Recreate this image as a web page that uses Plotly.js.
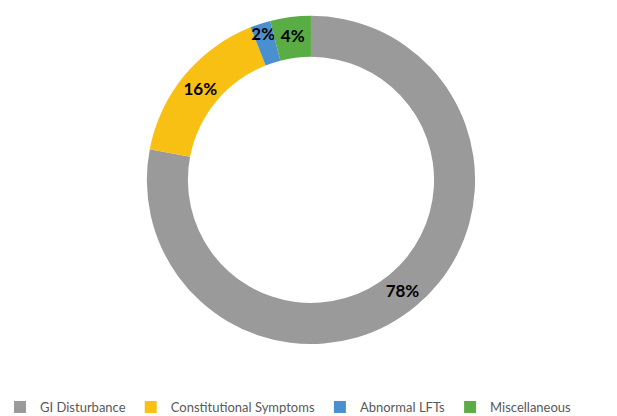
<!DOCTYPE html>
<html>
<head>
<meta charset="utf-8">
<script src="https://cdn.plot.ly/plotly-3.0.1.min.js"></script>
<style>html,body{margin:0;padding:0;background:#fff;}#chart{width:617px;height:416px;}</style>
</head>
<body>
<div id="chart"></div>
<script>
const categories = ["GI Disturbance", "Constitutional Symptoms", "Abnormal LFTs", "Miscellaneous"];
const values = [78, 16, 2, 4];
const colors = ["#9a9a9a", "#f8c012", "#4a90d0", "#5aad45"];

const trace = {
  type: "pie",
  labels: categories,
  values: values,
  sort: false,
  direction: "clockwise",
  rotation: 0,
  hole: 0.75,
  marker: {colors: colors, line: {width: 0}},
  texttemplate: "%{value}%",
  textposition: "inside",
  insidetextorientation: "horizontal",
  textfont: {family: "Lato, sans-serif", size: 17, color: "#000000", weight: "bold"},
  domain: {x: [0.238, 0.770], y: [0.173, 0.962]},
  hoverinfo: "label+percent"
};

const layout = {
  width: 617,
  height: 416,
  margin: {l: 0, r: 0, t: 0, b: 0, autoexpand: false},
  paper_bgcolor: "#ffffff",
  showlegend: true,
  uniformtext: {mode: "show", minsize: 17},
  legend: {
    orientation: "h",
    x: 0.4676, xanchor: "center",
    y: 0.0216, yanchor: "middle",
    font: {family: "Lato, sans-serif", size: 13, color: "#595959"},
    itemwidth: 30,
    traceorder: "normal"
  }
};

Plotly.newPlot("chart", [trace], layout, {displayModeBar: false, staticPlot: true});
</script>
</body>
</html>
